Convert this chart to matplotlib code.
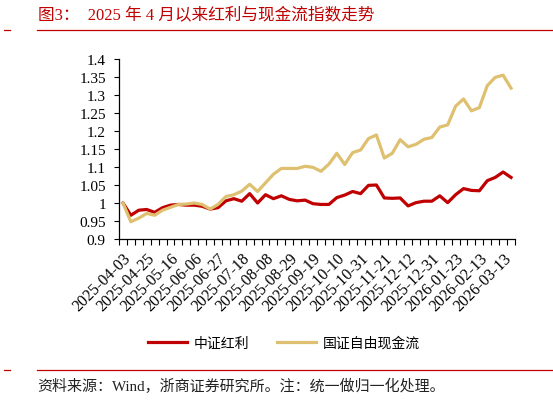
import matplotlib
matplotlib.use("Agg")
import matplotlib.pyplot as plt
from matplotlib.lines import Line2D

dates = ["2025-04-03", "2025-04-11", "2025-04-18", "2025-04-25", "2025-04-30",
         "2025-05-09", "2025-05-16", "2025-05-23", "2025-05-30", "2025-06-06",
         "2025-06-13", "2025-06-20", "2025-06-27", "2025-07-04", "2025-07-11",
         "2025-07-18", "2025-07-25", "2025-08-01", "2025-08-08", "2025-08-15",
         "2025-08-22", "2025-08-29", "2025-09-05", "2025-09-12", "2025-09-19",
         "2025-09-26", "2025-09-30", "2025-10-10", "2025-10-17", "2025-10-24",
         "2025-10-31", "2025-11-07", "2025-11-14", "2025-11-21", "2025-11-28",
         "2025-12-05", "2025-12-12", "2025-12-19", "2025-12-26", "2025-12-31",
         "2026-01-09", "2026-01-16", "2026-01-23", "2026-01-30", "2026-02-06",
         "2026-02-13", "2026-02-27", "2026-03-06", "2026-03-13", "2026-03-20"]

dividend = [1.000, 0.966, 0.980, 0.982, 0.974, 0.987, 0.994, 0.996, 0.994, 0.994,
            0.991, 0.983, 0.987, 1.006, 1.012, 1.005, 1.026, 1.000, 1.023, 1.012,
            1.020, 1.010, 1.006, 1.008, 0.998, 0.996, 0.996, 1.015, 1.022, 1.032,
            1.026, 1.049, 1.050, 1.014, 1.013, 1.014, 0.992, 1.001, 1.005, 1.005,
            1.020, 1.001, 1.023, 1.040, 1.035, 1.034, 1.062, 1.071, 1.086, 1.071]

free_cash = [1.000, 0.948, 0.958, 0.971, 0.966, 0.980, 0.988, 0.996, 0.997, 1.000,
             0.996, 0.983, 0.996, 1.018, 1.023, 1.033, 1.052, 1.032, 1.056, 1.080,
             1.096, 1.096, 1.096, 1.102, 1.099, 1.088, 1.108, 1.138, 1.107, 1.140,
             1.147, 1.179, 1.189, 1.125, 1.138, 1.176, 1.156, 1.163, 1.177, 1.182,
             1.211, 1.217, 1.269, 1.289, 1.256, 1.265, 1.326, 1.349, 1.355, 1.319]

series_names = ["中证红利", "国证自由现金流"]
yticks = [0.9, 0.95, 1.0, 1.05, 1.1, 1.15, 1.2, 1.25, 1.3, 1.35, 1.4]

RED = "#C00000"
GOLD = "#DEC070"
SERIF = ["Liberation Serif", "Noto Sans CJK SC"]
CJK = ["Noto Sans CJK SC", "DejaVu Sans"]

fig = plt.figure(figsize=(5.53, 4.02), dpi=100)
ax = fig.add_axes([119 / 553, 1 - 240 / 402, (515 - 119) / 553, (240 - 60) / 402])

x = list(range(len(dates)))
ax.plot(x, dividend, color=RED, lw=2.3, label=series_names[0], solid_joinstyle="round")
ax.plot(x, free_cash, color=GOLD, lw=2.3, label=series_names[1], solid_joinstyle="round")

ax.set_xlim(-0.5, len(dates) - 0.5)
ax.set_ylim(0.9, 1.4)
ax.set_yticks(yticks)
ax.set_yticklabels(["%g" % v for v in yticks], family=SERIF, fontsize=11)
ax.tick_params(axis="y", direction="out", length=3.5, width=0.8, pad=6)

major = x[::3]
ax.set_xticks(major)
ax.set_xticklabels([dates[i] for i in major], rotation=45, ha="right", va="top",
                   rotation_mode="anchor", family=SERIF, fontsize=11.5)
ax.set_xticks([i - 0.5 for i in range(len(dates) + 1)], minor=True)
ax.tick_params(axis="x", which="major", length=0, pad=8)
ax.tick_params(axis="x", which="minor", direction="out", length=4, width=0.8)

for s in ["top", "right"]:
    ax.spines[s].set_visible(False)
for s in ["left", "bottom"]:
    ax.spines[s].set_linewidth(0.9)

leg = fig.legend(loc="center", bbox_to_anchor=(284 / 553, 1 - 344 / 402), ncol=2,
                 frameon=False, prop={"family": CJK, "size": 10}, handlelength=2.8,
                 columnspacing=2.0, handletextpad=0.5)

# header
fig.text(38 / 553, 1 - 15 / 402, "图3：  2025 年 4 月以来红利与现金流指数走势",
         color=RED, family=SERIF, fontsize=12, va="center", ha="left")
for yy in [31, 371]:
    fig.add_artist(Line2D([37 / 553, 1.0], [1 - yy / 402] * 2, color=RED, lw=0.9,
                          transform=fig.transFigure))
    fig.add_artist(Line2D([4 / 553, 10 / 553], [1 - yy / 402] * 2, color=RED, lw=0.9,
                          transform=fig.transFigure))

fig.text(37 / 553, 1 - 386 / 402, "资料来源：Wind，浙商证券研究所。注：统一做归一化处理。",
         color="#222222", family=SERIF, fontsize=10.8, va="center", ha="left")

fig.savefig("out.png", dpi=100)
